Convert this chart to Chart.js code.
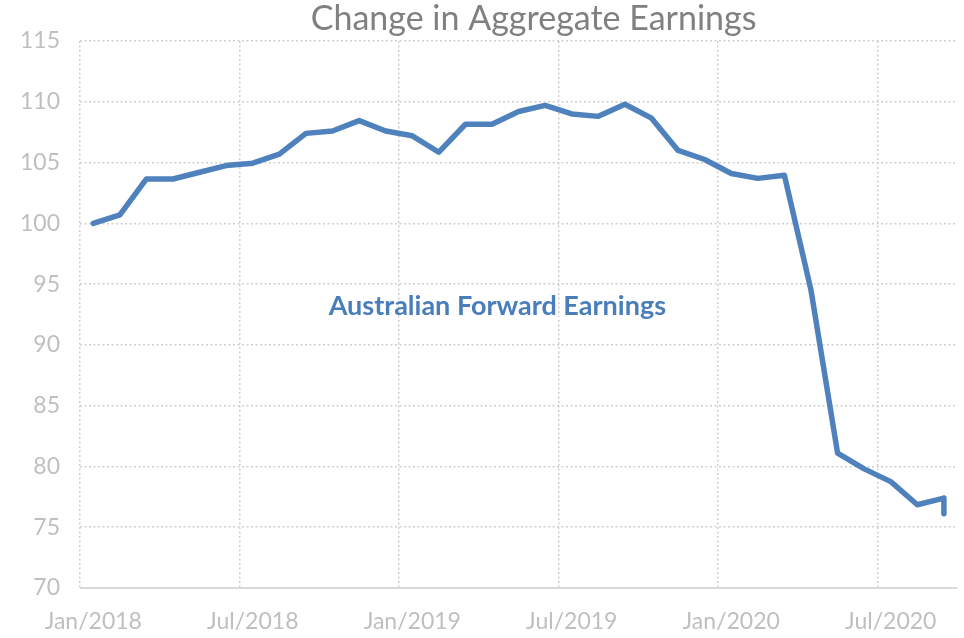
<!DOCTYPE html>
<html>
<head>
<meta charset="utf-8">
<script src="https://cdn.jsdelivr.net/npm/chart.js@4/dist/chart.umd.min.js"></script>
<style>
    html, body { margin: 0; padding: 0; background: #ffffff; }
    #wrap { width: 964px; height: 638px; }
</style>
</head>
<body>
<div id="wrap"><canvas id="earnings-chart" width="964" height="638"></canvas></div>
<script>
// Monthly categories (Jan 2018 - Sep 2020)
const months = [
    "Jan/2018", "Feb/2018", "Mar/2018", "Apr/2018", "May/2018", "Jun/2018",
    "Jul/2018", "Aug/2018", "Sep/2018", "Oct/2018", "Nov/2018", "Dec/2018",
    "Jan/2019", "Feb/2019", "Mar/2019", "Apr/2019", "May/2019", "Jun/2019",
    "Jul/2019", "Aug/2019", "Sep/2019", "Oct/2019", "Nov/2019", "Dec/2019",
    "Jan/2020", "Feb/2020", "Mar/2020", "Apr/2020", "May/2020", "Jun/2020",
    "Jul/2020", "Aug/2020", "Sep/2020"
];
// Only these month labels are shown on the x axis
const shownLabels = ["Jan/2018", "Jul/2018", "Jan/2019", "Jul/2019", "Jan/2020", "Jul/2020"];

// Index of aggregate forward earnings (Jan 2018 = 100)
const earnings = [
    100.0, 100.7, 103.65, 103.65, 104.2, 104.75,
    104.95, 105.7, 107.4, 107.6, 108.45, 107.6,
    107.2, 105.85, 108.15, 108.15, 109.2, 109.7,
    109.0, 108.8, 109.8, 108.65, 106.0, 105.25,
    104.1, 103.7, 103.95, 94.5, 81.1, 79.8,
    78.75, 76.85, 77.4
];
// latest reading, plotted in the final month (gives the little drop at the end)
const latestReading = 76.1;

const yTicks = [70, 75, 80, 85, 90, 95, 100, 105, 110, 115];

const seriesName = "Australian Forward Earnings";
const chartTitle = "Change in Aggregate Earnings";

const points = earnings.map((v, i) => ({ x: months[i], y: v }));
points.push({ x: months[months.length - 1], y: latestReading });

const gridGrey = "#d0d0d0";
const lineBlue = "#4f81bd";
const dots = [2, 2.5];

// solid axis line at the bottom, title and the series label inside the plot
const textPlugin = {
    id: "chartText",
    beforeDatasetsDraw(chart) {
        const c = chart.ctx;
        const a = chart.chartArea;
        c.save();
        c.strokeStyle = "#d9d9d9";
        c.lineWidth = 2;
        c.beginPath();
        c.moveTo(a.left, a.bottom);
        c.lineTo(a.right, a.bottom);
        c.stroke();
        c.restore();
    },
    afterDraw(chart) {
        const ctx = chart.ctx;
        const area = chart.chartArea;
        const xs = chart.scales.x;
        const ys = chart.scales.y;
        ctx.save();
        ctx.textAlign = "center";
        ctx.textBaseline = "middle";
        ctx.fillStyle = "#808080";
        ctx.font = "34px Lato";
        ctx.fillText(chartTitle, (area.left + area.right) / 2 + 15, 19);

        ctx.fillStyle = "#4a7ebb";
        ctx.font = "bold 27px Lato";
        const lx = xs.getPixelForValue(15.2);
        const ly = ys.getPixelForValue(93.2);
        ctx.fillText(seriesName, lx, ly);
        ctx.restore();
    }
};

const ctx = document.getElementById("earnings-chart").getContext("2d");
new Chart(ctx, {
    type: "line",
    data: {
        labels: months,
        datasets: [
            {
                label: seriesName,
                data: points,
                borderColor: lineBlue,
                backgroundColor: lineBlue,
                borderWidth: 5.5,
                pointRadius: 0,
                tension: 0,
                borderJoinStyle: "round",
                borderCapStyle: "round"
            }
        ]
    },
    options: {
        responsive: false,
        animation: false,
        layout: { padding: { top: 41, right: 6, left: 0, bottom: 0 } },
        plugins: {
            legend: { display: false },
            title: { display: false },
            tooltip: { enabled: false }
        },
        scales: {
            x: {
                type: "category",
                offset: true,
                grid: {
                    offset: true,
                    drawTicks: false,
                    lineWidth: 1.5,
                    color: (c) => (c.index % 6 === 0 && c.index < months.length ? gridGrey : "rgba(0,0,0,0)")
                },
                border: { display: false, dash: dots },
                ticks: {
                    autoSkip: false,
                    maxRotation: 0,
                    padding: 20,
                    color: "#bfbfbf",
                    font: { family: "Lato", size: 23 },
                    callback: function (val, i) {
                        const lbl = months[i];
                        return shownLabels.includes(lbl) ? lbl : "";
                    }
                },
                afterFit: (scale) => { scale.height = 50; }
            },
            y: {
                min: 70,
                max: 115,
                afterBuildTicks: (scale) => { scale.ticks = yTicks.map((v) => ({ value: v })); },
                grid: {
                    drawTicks: false,
                    lineWidth: 1.5,
                    color: (c) => (c.tick && c.tick.value === 70 ? "rgba(0,0,0,0)" : gridGrey)
                },
                border: { display: false, dash: dots },
                ticks: {
                    padding: 20,
                    color: "#bfbfbf",
                    font: { family: "Lato", size: 23 }
                },
                afterFit: (scale) => { scale.width = 80; }
            }
        }
    },
    plugins: [textPlugin]
});
</script>
</body>
</html>
